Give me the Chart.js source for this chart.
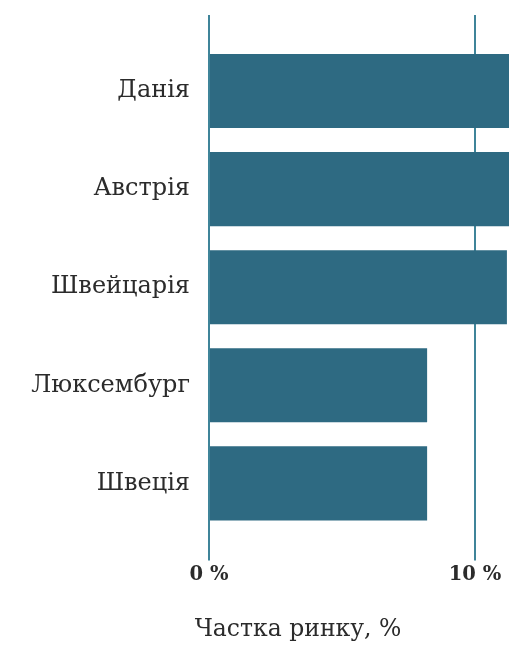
<!DOCTYPE html>
<html>
<head>
<meta charset="utf-8">
<script src="https://cdn.jsdelivr.net/npm/chart.js@4/dist/chart.umd.min.js"></script>
<style>
  html, body { margin: 0; padding: 0; background: #fff; overflow: hidden; }
  #wrap { width: 509px; height: 645px; overflow: hidden; }
</style>
</head>
<body>
<div id="wrap"><canvas id="chart" width="596" height="645"></canvas></div>
<script>
// data
const COUNTRIES = ["Данія", "Австрія", "Швейцарія", "Люксембург", "Швеція"];
const SHARE = [13, 12.3, 11.2, 8.2, 8.2];
const TICKS = [0, 10];
const AXIS_TITLE = "Частка ринку, %";

const BAR = "#2e6a82";
const GRID = "#3f8499";
const TEXT = "#2b2b2b";
const SERIF = "'DejaVu Serif', 'Liberation Serif', serif";

// canvas is wider than the window: the picture is cropped at the right
const X_MAX = (596 - 209) / 26.6;

new Chart(document.getElementById("chart"), {
    type: "bar",
    data: {
        labels: COUNTRIES,
        datasets: [{
            data: SHARE,
            backgroundColor: BAR,
            borderWidth: 0,
            categoryPercentage: 1,
            barPercentage: 0.755
        }]
    },
    options: {
        indexAxis: "y",
        responsive: false,
        animation: false,
        layout: { padding: { top: 15, bottom: 1, left: 0, right: 0 } },
        plugins: {
            legend: { display: false },
            tooltip: { enabled: false },
            title: {
                display: true,
                position: "bottom",
                text: AXIS_TITLE,
                color: TEXT,
                font: { family: SERIF, size: 23.5, weight: "normal" },
                padding: { top: 26, bottom: 0 }
            }
        },
        scales: {
            x: {
                position: "bottom",
                min: 0,
                max: X_MAX,
                afterBuildTicks: (s) => { s.ticks = TICKS.map((v) => ({ value: v })); },
                grid: { color: GRID, lineWidth: 2, tickLength: 28, tickColor: GRID },
                border: { display: false },
                ticks: {
                    color: TEXT,
                    padding: 3,
                    font: { family: SERIF, size: 19.5, weight: "bold" },
                    callback: (v) => v + " %"
                }
            },
            xTop: {
                axis: "x",
                position: "top",
                min: 0,
                max: X_MAX,
                afterBuildTicks: (s) => { s.ticks = TICKS.map((v) => ({ value: v })); },
                grid: { drawOnChartArea: false, color: GRID, lineWidth: 2, tickLength: 27, tickColor: GRID },
                border: { display: false },
                ticks: { display: false }
            },
            y: {
                afterFit: (s) => { s.width = 209; },
                grid: { display: false, drawTicks: false },
                border: { display: false },
                ticks: {
                    color: TEXT,
                    padding: 19,
                    font: { family: SERIF, size: 24 }
                }
            }
        }
    }
});
</script>
</body>
</html>
